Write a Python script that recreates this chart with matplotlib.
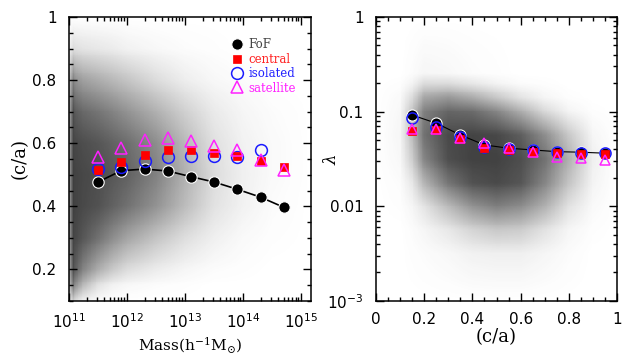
import numpy as np
import matplotlib
matplotlib.use("Agg")
import matplotlib.pyplot as plt
from matplotlib.colors import LinearSegmentedColormap
from matplotlib.ticker import MultipleLocator, LogLocator, FixedLocator, FixedFormatter, NullFormatter

plt.rcParams['mathtext.fontset'] = 'dejavuserif'

# ---------------- Left panel data: (c/a) vs mass ----------------
mass_bins = [3.16e11, 7.94e11, 2.0e12, 5.0e12, 1.26e13, 3.16e13, 7.94e13, 2.0e14, 5.0e14]
ca_fof = [0.477, 0.513, 0.518, 0.512, 0.494, 0.477, 0.454, 0.429, 0.397]
ca_central = [0.516, 0.540, 0.564, 0.577, 0.577, 0.568, 0.558, 0.543, 0.524]
mass_isolated = [3.16e11, 7.94e11, 2.0e12, 5.0e12, 1.26e13, 3.16e13, 7.94e13, 2.0e14]
ca_isolated = [0.517, 0.524, 0.543, 0.556, 0.558, 0.558, 0.556, 0.577]
ca_satellite = [0.556, 0.586, 0.610, 0.618, 0.608, 0.591, 0.577, 0.547, 0.515]

# density (darkness 0..1) of the halo cloud
cloud_logm = [11.0, 11.07, 11.12, 11.25, 11.5, 11.75, 12.0, 12.5, 13.0, 13.5, 14.0, 14.5, 15.2]
cloud_ca = [0.1, 0.15, 0.2, 0.3, 0.4, 0.5, 0.6, 0.7, 0.8, 0.9, 1.0]
cloud_left = [
    [0.05, 0.25, 0.15, 0.06, 0.02, 0.01, 0.00, 0.00, 0.00, 0.00, 0.00, 0.00, 0.00],
    [0.25, 0.70, 0.55, 0.35, 0.15, 0.07, 0.04, 0.02, 0.01, 0.00, 0.00, 0.00, 0.00],
    [0.35, 0.90, 0.80, 0.62, 0.42, 0.28, 0.18, 0.10, 0.05, 0.02, 0.01, 0.00, 0.00],
    [0.40, 0.95, 0.92, 0.85, 0.72, 0.58, 0.46, 0.30, 0.17, 0.08, 0.03, 0.01, 0.00],
    [0.40, 0.97, 0.95, 0.92, 0.88, 0.80, 0.72, 0.55, 0.34, 0.15, 0.07, 0.02, 0.00],
    [0.40, 0.97, 0.95, 0.93, 0.90, 0.85, 0.80, 0.64, 0.40, 0.18, 0.08, 0.03, 0.00],
    [0.40, 0.95, 0.93, 0.90, 0.86, 0.80, 0.74, 0.58, 0.36, 0.16, 0.07, 0.03, 0.00],
    [0.35, 0.90, 0.82, 0.76, 0.70, 0.63, 0.55, 0.40, 0.24, 0.11, 0.05, 0.02, 0.00],
    [0.25, 0.65, 0.55, 0.48, 0.42, 0.36, 0.30, 0.18, 0.09, 0.04, 0.02, 0.00, 0.00],
    [0.06, 0.18, 0.16, 0.14, 0.12, 0.10, 0.07, 0.04, 0.02, 0.01, 0.00, 0.00, 0.00],
    [0.00, 0.00, 0.00, 0.00, 0.00, 0.00, 0.00, 0.00, 0.00, 0.00, 0.00, 0.00, 0.00],
]

# ---------------- Right panel data: lambda vs (c/a) ----------------
ca_bins = [0.15, 0.25, 0.35, 0.45, 0.55, 0.65, 0.75, 0.85, 0.95]
lam_fof = [0.092, 0.0755, 0.0567, 0.0445, 0.0411, 0.0394, 0.0378, 0.0373, 0.0364]
lam_isolated = [0.085, 0.0695, 0.0537, 0.0427, 0.0404, 0.0394, 0.0375, 0.0369, 0.0364]
lam_central = [0.063, 0.064, 0.0511, 0.0417, 0.0394, 0.0378, 0.0364, 0.0357, 0.0355]
lam_satellite = [0.065, 0.065, 0.0524, 0.0464, 0.0411, 0.0378, 0.0335, 0.0322, 0.0312]

cloud_x = [0.0, 0.1, 0.15, 0.2, 0.3, 0.4, 0.5, 0.6, 0.7, 0.8, 0.9, 1.0]
cloud_loglam = [-3.0, -2.5, -2.25, -2.0, -1.75, -1.5, -1.25, -1.0, -0.85, -0.7, -0.6, 0.0]
cloud_right = [
    [0, 0, 0, 0, 0, 0, 0, 0, 0, 0, 0, 0],
    [0, 0, 0.01, 0.02, 0.04, 0.07, 0.08, 0.08, 0.05, 0.02, 0, 0],
    [0, 0, 0.02, 0.05, 0.12, 0.22, 0.28, 0.26, 0.15, 0.05, 0.01, 0],
    [0, 0.01, 0.05, 0.14, 0.35, 0.55, 0.65, 0.58, 0.40, 0.15, 0.03, 0],
    [0, 0.02, 0.12, 0.38, 0.70, 0.88, 0.92, 0.86, 0.62, 0.30, 0.06, 0],
    [0, 0.04, 0.25, 0.62, 0.90, 0.96, 0.96, 0.90, 0.72, 0.40, 0.08, 0],
    [0, 0.05, 0.33, 0.72, 0.92, 0.95, 0.93, 0.82, 0.58, 0.28, 0.05, 0],
    [0, 0.04, 0.30, 0.65, 0.78, 0.75, 0.62, 0.42, 0.20, 0.06, 0.01, 0],
    [0, 0.03, 0.18, 0.45, 0.52, 0.42, 0.28, 0.14, 0.05, 0.01, 0, 0],
    [0, 0.01, 0.06, 0.18, 0.18, 0.12, 0.06, 0.02, 0.01, 0, 0, 0],
    [0, 0, 0.02, 0.05, 0.04, 0.02, 0.01, 0, 0, 0, 0, 0],
    [0, 0, 0, 0, 0, 0, 0, 0, 0, 0, 0, 0],
]

cloud_cmap = LinearSegmentedColormap.from_list("cloud", ["#ffffff", "#3a3a3a"])


def smooth_field(xs, ys, grid, nx=300, ny=300):
    """Bilinear resampling of the coarse density table onto a fine mesh."""
    xs = np.asarray(xs, float)
    ys = np.asarray(ys, float)
    grid = np.asarray(grid, float)
    fx = np.linspace(xs[0], xs[-1], nx)
    fy = np.linspace(ys[0], ys[-1], ny)
    rows = np.array([np.interp(fx, xs, r) for r in grid])
    fine = np.array([np.interp(fy, ys, rows[:, j]) for j in range(nx)]).T
    return fx, fy, fine


fig = plt.figure(figsize=(6.31, 3.56), dpi=100)
axL = fig.add_axes([0.1094, 0.1545, 0.3835, 0.7978])
axR = fig.add_axes([0.5959, 0.1545, 0.3820, 0.7978])

label_font = dict(family='DejaVu Serif', size=11)
ca_font = dict(family='DejaVu Serif', size=13)


def style(ax):
    ax.tick_params(which='both', direction='in', top=True, right=True, width=1.0)
    ax.tick_params(which='major', length=6, labelsize=11)
    ax.tick_params(axis='y', which='major', pad=9)
    ax.tick_params(axis='x', which='major', pad=8)
    ax.tick_params(which='minor', length=3)
    for s in ax.spines.values():
        s.set_linewidth(1.1)


# ---- Left panel ----
fx, fy, fine = smooth_field(cloud_logm, cloud_ca, cloud_left)
axL.pcolormesh(10 ** fx, fy, fine, shading='nearest', cmap=cloud_cmap, vmin=0, vmax=1,
               rasterized=True, zorder=0)
axL.set_xscale('log')
axL.set_xlim(1e11, 10 ** 15.17)
axL.set_ylim(0.1, 1.0)

axL.plot(mass_bins, ca_fof, '-', color='black', lw=1.2, zorder=3)
hF, = axL.plot(mass_bins, ca_fof, 'o', ms=8.2, mfc='black', mec='white', mew=0.8, zorder=4, label='FoF')
hI, = axL.plot(mass_isolated, ca_isolated, 'o', ms=8.5, mfc='none', mec='#1a1aff', mew=1.1, zorder=5, label='isolated')
hC, = axL.plot(mass_bins, ca_central, 's', ms=6.0, mfc='#ff0000', mec='#ff0000', mew=0.5, zorder=6, label='central')
hS, = axL.plot(mass_bins, ca_satellite, '^', ms=8.0, mfc='none', mec='#ff22ff', mew=1.1, zorder=7, label='satellite')

axL.xaxis.set_major_locator(LogLocator(base=10, numticks=10))
axL.xaxis.set_minor_locator(LogLocator(base=10, subs=np.arange(2, 10), numticks=50))
axL.xaxis.set_minor_formatter(NullFormatter())
axL.yaxis.set_major_locator(FixedLocator([0.2, 0.4, 0.6, 0.8, 1.0]))
axL.yaxis.set_major_formatter(FixedFormatter(['0.2', '0.4', '0.6', '0.8', '1']))
axL.yaxis.set_minor_locator(MultipleLocator(0.05))
style(axL)
axL.set_xlabel(r'Mass(h$^{-1}$M$_{\odot}$)', **label_font, labelpad=3)
axL.set_ylabel('(c/a)', **ca_font)
axL.yaxis.set_label_coords(-0.165, 0.5)

leg = axL.legend(handles=[hF, hC, hI, hS], loc='upper left', bbox_to_anchor=(0.64, 0.95),
                 frameon=False, handlelength=1.0, handletextpad=0.5, labelspacing=0.12,
                 borderpad=0.1, prop=dict(family='DejaVu Serif', size=8.5))
for t, c in zip(leg.get_texts(), ['#444444', '#ff2222', '#2222ff', '#ff22ff']):
    t.set_color(c)

# ---- Right panel ----
gx, gy, fine2 = smooth_field(cloud_x, cloud_loglam, cloud_right)
axR.pcolormesh(gx, 10 ** gy, fine2, shading='nearest', cmap=cloud_cmap, vmin=0, vmax=1,
               rasterized=True, zorder=0)
axR.set_yscale('log')
axR.set_xlim(0, 1)
axR.set_ylim(1e-3, 1)

axR.plot(ca_bins, lam_fof, '-', color='black', lw=0.8, zorder=3)
axR.plot(ca_bins, lam_fof, 'o', ms=8.0, mfc='black', mec='white', mew=0.8, zorder=4)
axR.plot(ca_bins, lam_isolated, 'o', ms=8.0, mfc='none', mec='#1a1aff', mew=1.1, zorder=5)
axR.plot(ca_bins, lam_central, 's', ms=5.8, mfc='#ff0000', mec='#ff0000', mew=0.5, zorder=6)
axR.plot(ca_bins, lam_satellite, '^', ms=7.5, mfc='none', mec='#ff22ff', mew=1.1, zorder=7)

axR.xaxis.set_major_locator(FixedLocator([0, 0.2, 0.4, 0.6, 0.8, 1.0]))
axR.xaxis.set_major_formatter(FixedFormatter(['0', '0.2', '0.4', '0.6', '0.8', '1']))
axR.xaxis.set_minor_locator(MultipleLocator(0.05))
axR.yaxis.set_major_locator(FixedLocator([1e-3, 1e-2, 1e-1, 1]))
axR.yaxis.set_major_formatter(FixedFormatter([r'$\mathdefault{10^{-3}}$', '0.01', '0.1', '1']))
axR.yaxis.set_minor_locator(LogLocator(base=10, subs=np.arange(2, 10), numticks=50))
axR.yaxis.set_minor_formatter(NullFormatter())
style(axR)
axR.set_xlabel('(c/a)', **ca_font, labelpad=1)
axR.set_ylabel(r'$\lambda$', size=12)
axR.yaxis.set_label_coords(-0.15, 0.5)

for ax in (axL, axR):
    for lab in ax.get_xticklabels() + ax.get_yticklabels():
        lab.set_family('DejaVu Sans')

fig.savefig('out.png', dpi=100)
